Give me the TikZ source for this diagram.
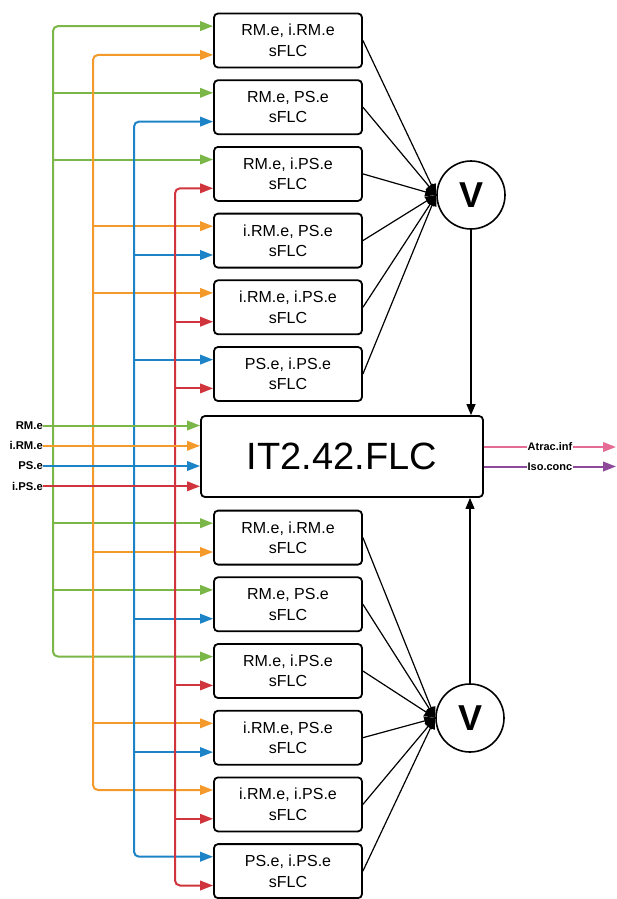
\documentclass[tikz,border=0pt]{standalone}
\usepackage{fontspec}
\setmainfont{Liberation Sans}
\usetikzlibrary{arrows.meta,calc}
\definecolor{cG}{HTML}{7AB648}
\definecolor{cO}{HTML}{F39A2B}
\definecolor{cB}{HTML}{1C84C6}
\definecolor{cR}{HTML}{D0343C}
\definecolor{cP}{HTML}{E46B95}
\definecolor{cV}{HTML}{8E4A9A}
\tikzset{
  sflc/.style={draw, line width=1.8pt, rounded corners=4pt, minimum width=148pt, minimum height=54pt, align=center, inner sep=0pt, font=\fontsize{16}{20.5}\selectfont},
  mainbox/.style={draw, line width=1.8pt, rounded corners=4pt, minimum width=282pt, minimum height=81pt, inner sep=0pt, font=\fontsize{38}{42}\selectfont},
  orbox/.style={draw, circle, line width=1.6pt, minimum size=68pt, inner sep=0pt, font=\fontsize{36}{40}\selectfont\bfseries},
  inlab/.style={anchor=east, inner sep=0pt, font=\fontsize{11.3}{13}\selectfont\bfseries},
  outlab/.style={fill=white, inner sep=1pt, font=\fontsize{11}{13}\selectfont\bfseries},
  wire/.style={line width=2pt, -{Triangle[length=13pt,width=9.5pt]}},
  wire2/.style={line width=2pt, rounded corners=5pt, {Triangle[length=13pt,width=9.5pt]}-{Triangle[length=13pt,width=9.5pt]}},
  blk/.style={line width=1.2pt, -{Triangle[length=11pt,width=9pt]}}
}
\begin{document}
\begin{tikzpicture}[x=1pt,y=-1pt]
\useasboundingbox (0,0) rectangle (616,899);
% small FLC boxes
\node[sflc] (t1) at (288,40.5) {RM.e, i.RM.e\\sFLC};
\node[sflc] (t2) at (288,107.2) {RM.e, PS.e\\sFLC};
\node[sflc] (t3) at (288,173.9) {RM.e, i.PS.e\\sFLC};
\node[sflc] (t4) at (288,240.6) {i.RM.e, PS.e\\sFLC};
\node[sflc] (t5) at (288,307.3) {i.RM.e, i.PS.e\\sFLC};
\node[sflc] (t6) at (288,374) {PS.e, i.PS.e\\sFLC};
\node[sflc] (b1) at (288,537.6) {RM.e, i.RM.e\\sFLC};
\node[sflc] (b2) at (288,604.3) {RM.e, PS.e\\sFLC};
\node[sflc] (b3) at (288,671) {RM.e, i.PS.e\\sFLC};
\node[sflc] (b4) at (288,737.7) {i.RM.e, PS.e\\sFLC};
\node[sflc] (b5) at (288,804.4) {i.RM.e, i.PS.e\\sFLC};
\node[sflc] (b6) at (288,871.1) {PS.e, i.PS.e\\sFLC};
% main box and OR nodes
\node[mainbox] (main) at (342,456.5) {IT2.42.FLC};
\node[orbox] (vt) at (471,195) {V};
\node[orbox] (vb) at (470,718) {V};
% ports
\foreach \n in {t1,t2,t3,t4,t5,t6,b1,b2,b3,b4,b5,b6}{
  \coordinate (\n a) at ([yshift=-13.5pt]\n.north west);
  \coordinate (\n b) at ([yshift=13.5pt]\n.south west);
}
\coordinate (gx) at (53,0);
\coordinate (ox) at (93,0);
\coordinate (bx) at (134,0);
\coordinate (rx) at (175,0);
% input labels
\node[inlab] (lRM) at (43,425.5) {RM.e};
\node[inlab] (liRM) at (43,445.8) {i.RM.e};
\node[inlab] (lPS) at (43,466) {PS.e};
\node[inlab] (liPS) at (43,486.3) {i.PS.e};
% green
\draw[wire2, cG] (t1a) -- (gx |- t1a) -- (gx |- b3a) -- (b3a);
\foreach \p in {t2a,t3a,b1a,b2a} \draw[wire, cG] (gx |- \p) -- (\p);
% orange
\draw[wire2, cO] (t1b) -- (ox |- t1b) -- (ox |- b5a) -- (b5a);
\foreach \p in {t4a,t5a,b1b,b4a} \draw[wire, cO] (ox |- \p) -- (\p);
% blue
\draw[wire2, cB] (t2b) -- (bx |- t2b) -- (bx |- b6a) -- (b6a);
\foreach \p in {t4b,t6a,b2b,b4b} \draw[wire, cB] (bx |- \p) -- (\p);
% red
\draw[wire2, cR] (t3b) -- (rx |- t3b) -- (rx |- b6b) -- (b6b);
\foreach \p in {t5b,t6b,b3b,b5b} \draw[wire, cR] (rx |- \p) -- (\p);
% main inputs
\draw[wire, cG] (lRM.east) -- (lRM.east -| main.west);
\draw[wire, cO] (liRM.east) -- (liRM.east -| main.west);
\draw[wire, cB] (lPS.east) -- (lPS.east -| main.west);
\draw[wire, cR] (liPS.east) -- (liPS.east -| main.west);
% outputs
\coordinate (oA) at (616,447);
\coordinate (oI) at (616,466.5);
\draw[wire, cP] (oA -| main.east) -- node[outlab, text=black] {Atrac.inf} (oA);
\draw[wire, cV] (oI -| main.east) -- node[outlab, text=black] {Iso.conc} (oI);
% black connectors
\foreach \n in {t1,t2,t3,t4,t5,t6} \draw[blk] (\n.east) -- (vt.west);
\foreach \n in {b1,b2,b3,b4,b5,b6} \draw[blk] (\n.east) -- (vb.west);
\draw[blk] (vt.south) -- (vt.south |- main.north);
\draw[blk] (vb.north) -- (vb.north |- main.south);
\end{tikzpicture}
\end{document}
